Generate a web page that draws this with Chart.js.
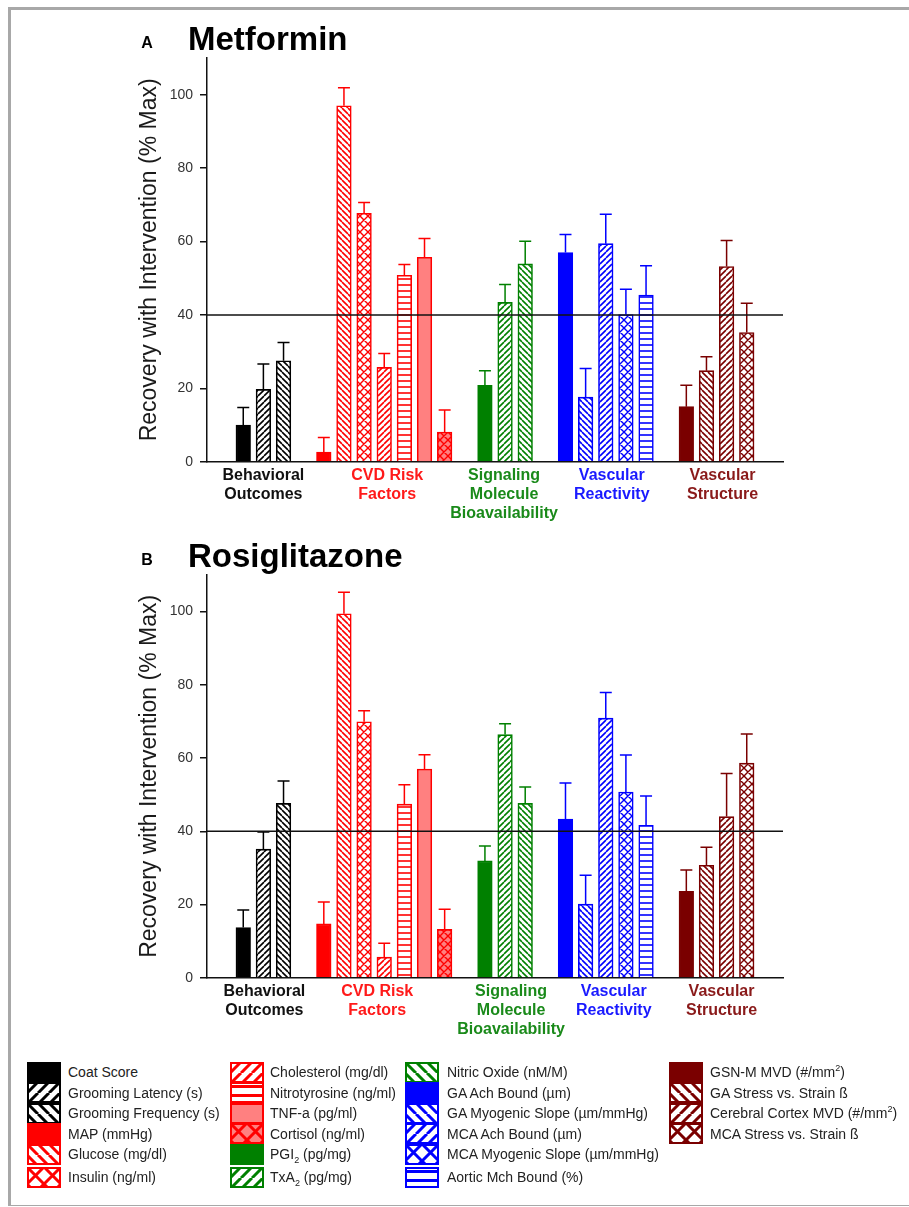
<!DOCTYPE html>
<html>
<head>
<meta charset="utf-8">
<script src="https://cdn.jsdelivr.net/npm/chart.js@4.4.1/dist/chart.umd.min.js"></script>
<style>
  body { margin: 0; background: #fff; font-family: "Liberation Sans", Arial, sans-serif; }
  #page { position: relative; width: 909px; height: 1207px; overflow: hidden; }
  #frame { position: absolute; left: 8px; top: 7px; width: 910px; height: 1199px; box-sizing: border-box;
           border-left: 3px solid #a8a8a8; border-top: 3px solid #a8a8a8; border-bottom: 1px solid #a8a8a8; }
  .panel { position: absolute; left: 0; width: 909px; }
  .sw { position: absolute; }
  .lt { position: absolute; font-size: 14px; color: #222; line-height: 16px; white-space: nowrap; transform: translateY(-50%); }
  .lt sub, .lt sup { font-size: 9px; line-height: 0; }
</style>
</head>
<body>
<div id="page">
  <div id="frame"></div>
  <div class="panel" style="top:0;height:528px"><canvas id="chartA"></canvas></div>
  <div class="panel" style="top:528px;height:512px"><canvas id="chartB"></canvas></div>
  <div id="legend"></div>
</div>
<script>
// --- DATA ---
const measures = [
  'Coat Score', 'Grooming Latency (s)', 'Grooming Frequency (s)',
  'MAP (mmHg)', 'Glucose (mg/dl)', 'Insulin (ng/ml)', 'Cholesterol (mg/dl)', 'Nitrotyrosine (ng/ml)', 'TNF-a (pg/ml)', 'Cortisol (ng/ml)',
  'PGI2 (pg/mg)', 'TxA2 (pg/mg)', 'Nitric Oxide (nM/M)',
  'GA Ach Bound (µm)', 'GA Myogenic Slope (µm/mmHg)', 'MCA Ach Bound (µm)', 'MCA Myogenic Slope (µm/mmHg)', 'Aortic Mch Bound (%)',
  'GSN-M MVD (#/mm2)', 'GA Stress vs. Strain ß', 'Cerebral Cortex MVD (#/mm2)', 'MCA Stress vs. Strain ß'
];
const groupNames = [
  ['Behavioral', 'Outcomes'],
  ['CVD Risk', 'Factors'],
  ['Signaling', 'Molecule', 'Bioavailability'],
  ['Vascular', 'Reactivity'],
  ['Vascular', 'Structure']
];
const groupSizes = [3, 7, 3, 5, 4];

const metforminValues = [10, 19.7, 27.5, 2.6, 97, 67.7, 25.7, 50.8, 55.7, 8.1, 20.8, 43.4, 53.9, 57, 17.6, 59.4, 40.1, 45.4, 15, 24.8, 53.2, 35.2];
const metforminErrors = [4.8, 6.9, 5, 4, 4.9, 2.9, 3.8, 2.9, 5.1, 6, 4, 4.9, 6.2, 4.9, 7.8, 8, 6.9, 8, 5.8, 3.8, 7.1, 8];

const rosiValues = [13.7, 35.1, 47.6, 14.7, 99.4, 69.9, 5.6, 47.4, 57, 13.2, 31.9, 66.4, 47.6, 43.3, 20.1, 70.9, 50.7, 41.6, 23.6, 30.7, 44, 58.6];
const rosiErrors = [4.8, 4.7, 6.1, 6, 5.9, 3, 3.8, 5.3, 3.9, 5.5, 4.1, 3, 4.5, 9.9, 7.9, 7, 10.1, 8, 5.8, 4.9, 11.8, 8];

const refLine = 40;
const yTicks = [0, 20, 40, 60, 80, 100];

// --- STYLES ---
const BLACK = '#000000', RED = '#ff0000', PINK = '#ff8080', GREEN = '#008000', BLUE = '#0000ff', MAROON = '#7a0000';
const groupTextColors = ['#111111', '#ff1a1a', '#1a8a1a', '#1a1aff', '#8a1a1a'];
// [pattern, line colour, background]
const barStyles = [
  ['solid', BLACK], ['fwd', BLACK], ['back', BLACK],
  ['solid', RED], ['back', RED], ['cross', RED], ['fwd', RED], ['horiz', RED], ['solid', RED, PINK], ['cross', RED, PINK],
  ['solid', GREEN], ['fwd', GREEN], ['back', GREEN],
  ['solid', BLUE], ['back', BLUE], ['fwd', BLUE], ['cross', BLUE], ['horiz', BLUE],
  ['solid', MAROON], ['back', MAROON], ['fwd', MAROON], ['cross', MAROON]
];

function makePattern(kind, color, bg, big) {
  if (kind === 'solid') return bg || color;
  const size = kind === 'cross' ? (big ? 17 : 8) : (kind === 'horiz' ? (big ? 9 : 6) : (big ? 11 : 6));
  const c = document.createElement('canvas');
  c.width = size; c.height = size;
  const g = c.getContext('2d');
  g.fillStyle = bg || '#fff';
  g.fillRect(0, 0, size, size);
  g.strokeStyle = color;
  g.lineWidth = big ? 3 : (kind === 'cross' ? 1.4 : 1.6);
  g.beginPath();
  for (let k = -1; k <= 1; k++) {
    if (kind === 'fwd' || kind === 'cross') { g.moveTo(k * size, size); g.lineTo(k * size + size, 0); }
    if (kind === 'back' || kind === 'cross') { g.moveTo(k * size, 0); g.lineTo(k * size + size, size); }
  }
  if (kind === 'horiz') { g.moveTo(0, size / 2); g.lineTo(size, size / 2); }
  g.stroke();
  return g.createPattern(c, 'repeat');
}

// slot index for every bar: groups separated by one empty slot
const slots = [];
const groupCenters = [];
let pos = 0;
groupSizes.forEach(n => {
  const first = pos;
  for (let i = 0; i < n; i++) slots.push(pos++);
  groupCenters.push((first + pos - 1) / 2);
  pos++;
});
const lastSlot = slots[slots.length - 1];

const FONT = "'Liberation Sans', Arial, sans-serif";
Chart.defaults.font.family = FONT;

function makeChart(id, letter, title, values, errors, padTop, xAxisHeight, labelShift) {
  const extras = {
    id: 'extras',
    afterDatasetsDraw(chart) {
      const { ctx, chartArea, scales: { x, y } } = chart;
      const meta = chart.getDatasetMeta(0);
      ctx.save();
      // error bars (upper only)
      meta.data.forEach((bar, i) => {
        const top = y.getPixelForValue(values[i] + errors[i]);
        ctx.strokeStyle = barStyles[i][1];
        ctx.lineWidth = 1.5;
        ctx.beginPath();
        ctx.moveTo(bar.x, bar.y);
        ctx.lineTo(bar.x, top);
        ctx.moveTo(bar.x - 6, top);
        ctx.lineTo(bar.x + 6, top);
        ctx.stroke();
      });
      // 40% line
      const yRef = y.getPixelForValue(refLine);
      ctx.strokeStyle = '#111';
      ctx.lineWidth = 1.5;
      ctx.beginPath();
      ctx.moveTo(chartArea.left, yRef);
      ctx.lineTo(chartArea.right, yRef);
      ctx.stroke();
      // group labels
      ctx.font = 'bold 16px ' + FONT;
      ctx.textAlign = 'center';
      ctx.textBaseline = 'middle';
      groupNames.forEach((lines, g) => {
        ctx.fillStyle = groupTextColors[g];
        const cx = x.getPixelForValue(groupCenters[g]) + labelShift[g];
        lines.forEach((t, j) => ctx.fillText(t, cx, chartArea.bottom + 13.5 + j * 19));
      });
      // panel letter and title
      ctx.fillStyle = '#000';
      ctx.textBaseline = 'alphabetic';
      ctx.font = 'bold 16px ' + FONT;
      ctx.fillText(letter, 147, chartArea.top - 10.5);
      ctx.textAlign = 'left';
      ctx.font = 'bold 33px ' + FONT;
      ctx.fillText(title, 188, chartArea.top - 8.5);
      ctx.restore();
    }
  };

  return new Chart(document.getElementById(id), {
    type: 'bar',
    data: {
      datasets: [{
        data: values.map((v, i) => ({ x: slots[i], y: v })),
        backgroundColor: barStyles.map(s => makePattern(s[0], s[1], s[2], false)),
        borderColor: barStyles.map(s => s[1]),
        borderWidth: 1.6,
        barThickness: 14.6
      }]
    },
    options: {
      responsive: true,
      maintainAspectRatio: false,
      animation: false,
      layout: { padding: { left: 136, right: 126, top: padTop, bottom: 0 } },
      plugins: { legend: { display: false }, tooltip: { enabled: false } },
      scales: {
        x: {
          type: 'linear',
          offset: false,
          min: -1.8,
          max: lastSlot + 1.8,
          grid: { display: false },
          ticks: { display: false },
          border: { display: true, color: '#111', width: 1.5 },
          afterFit(scale) { scale.height = xAxisHeight; }
        },
        y: {
          min: 0,
          max: 110,
          afterBuildTicks(scale) { scale.ticks = yTicks.map(v => ({ value: v })); },
          ticks: { font: { size: 14 }, color: '#333', padding: 7 },
          grid: { drawOnChartArea: false, drawTicks: true, tickLength: 7, color: '#111', lineWidth: 1.5 },
          border: { display: true, color: '#111', width: 1.5 },
          title: { display: true, text: 'Recovery with Intervention (% Max)', font: { size: 23 }, color: '#1a1a1a', padding: 0 },
          afterFit(scale) { scale.width = 71; }
        }
      }
    },
    plugins: [extras]
  });
}

makeChart('chartA', 'A', 'Metformin', metforminValues, metforminErrors, 58, 66.3, [0, 3, -1, 6, 6]);
makeChart('chartB', 'B', 'Rosiglitazone', rosiValues, rosiErrors, 47, 62.3, [1, -7, 6, 8, 5]);

// --- LEGEND ---
const legendRowsY = [1072, 1092.5, 1113, 1133.5, 1154, 1177];
const legendCols = [{ sw: 27, tx: 68 }, { sw: 230, tx: 270 }, { sw: 405, tx: 447 }, { sw: 669, tx: 710 }];
const legend = document.getElementById('legend');
measures.forEach((name, i) => {
  const col = legendCols[Math.floor(i / 6)];
  const cy = legendRowsY[i % 6];
  const sw = document.createElement('canvas');
  sw.width = 34; sw.height = 21;
  sw.className = 'sw';
  sw.style.left = col.sw + 'px';
  sw.style.top = (cy - 10.5) + 'px';
  const g = sw.getContext('2d');
  const s = barStyles[i];
  g.fillStyle = makePattern(s[0], s[1], s[2], true);
  g.fillRect(0, 0, 34, 21);
  g.strokeStyle = s[1];
  g.lineWidth = 2;
  g.strokeRect(1, 1, 32, 19);
  legend.appendChild(sw);

  const t = document.createElement('div');
  t.className = 'lt';
  t.style.left = col.tx + 'px';
  t.style.top = cy + 'px';
  t.innerHTML = name.replace(/(PGI|TxA)2/, '$1<sub>2</sub>').replace('mm2', 'mm<sup>2</sup>');
  legend.appendChild(t);
});
</script>
</body>
</html>
